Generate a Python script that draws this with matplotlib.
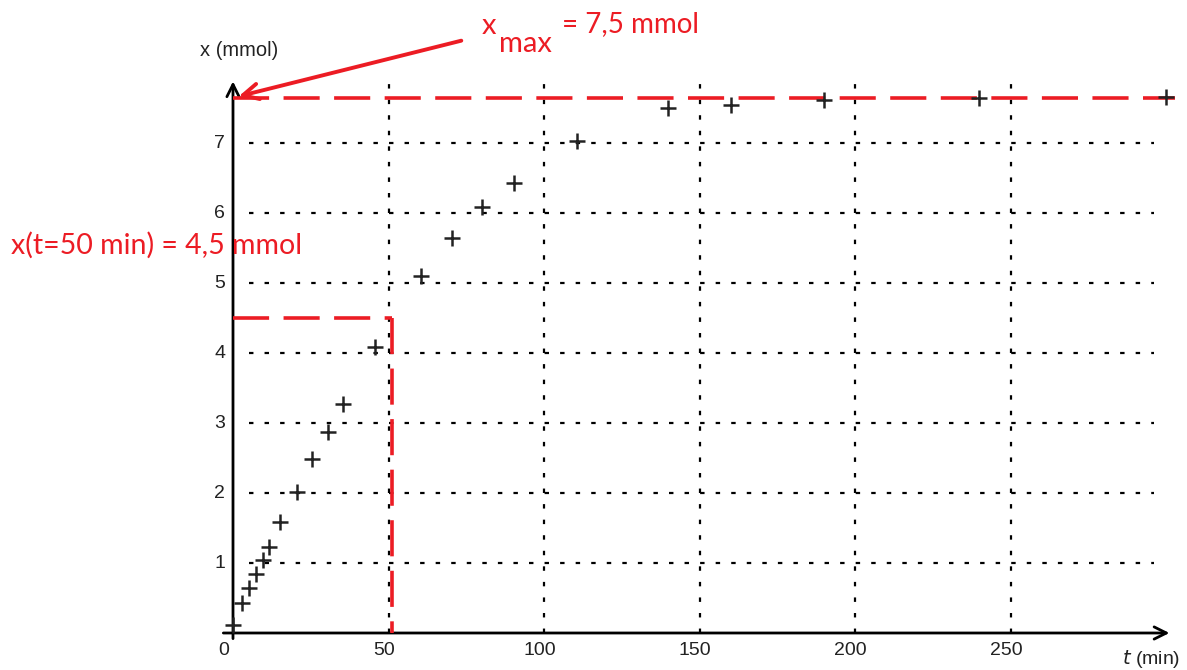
import matplotlib
matplotlib.use("Agg")
import matplotlib.pyplot as plt

# data
t_min = [0, 3, 5, 7.5, 9.5, 11.5, 15, 20.5, 25.5, 30.5, 35.5, 45.5, 60.5, 70.5, 80, 90.5, 110.5, 140, 160, 190, 240, 300]
x_mmol = [0.12, 0.43, 0.65, 0.84, 1.04, 1.23, 1.58, 2.02, 2.48, 2.87, 3.27, 4.08, 5.1, 5.64, 6.08, 6.43, 7.03, 7.5, 7.55, 7.62, 7.64, 7.66]
x_ticks = [50, 100, 150, 200, 250]
y_ticks = [1, 2, 3, 4, 5, 6, 7]
x_max = 7.65
t_half = 51
x_half = 4.5

RED = "#ec1c24"
W, H = 1187, 670
fig = plt.figure(figsize=(W / 100, H / 100), dpi=100)

# axes placement: t=0 at px 233, 3.11 px/min ; x=0 at px 633, 70 px/unit
xlim = (-4, 303)
ylim = (-0.15, 8.1)
px_per_t = 3.11
px_per_x = 70.0
left_px = 233 + xlim[0] * px_per_t
right_px = 233 + xlim[1] * px_per_t
bottom_px = 633 - ylim[0] * px_per_x
top_px = 633 - ylim[1] * px_per_x
ax = fig.add_axes([left_px / W, (H - bottom_px) / H, (right_px - left_px) / W, (bottom_px - top_px) / H])
ax.set_xlim(*xlim)
ax.set_ylim(*ylim)
for s in ax.spines.values():
    s.set_visible(False)
ax.set_xticks([])
ax.set_yticks([])

dot = (0, (2, 5))
# grid
ax.hlines(y_ticks, 5, 296, colors="black", linestyles=[dot], linewidth=1.6)
ax.vlines(x_ticks, 0, 7.95, colors="black", linestyles=[dot], linewidth=1.6)

# axes arrows
ax.annotate("", xy=(302, 0), xytext=(-4, 0),
            arrowprops=dict(arrowstyle="->", color="black", lw=2.0, mutation_scale=22))
ax.annotate("", xy=(0, 7.92), xytext=(0, -0.12),
            arrowprops=dict(arrowstyle="->", color="black", lw=2.0, mutation_scale=22))

# red guide lines
dash = (0, (10, 4))
ax.plot([0, 303], [x_max, x_max], color=RED, lw=2.6, linestyle=dash, zorder=3)
ax.plot([0, t_half], [x_half, x_half], color=RED, lw=2.6, linestyle=dash, zorder=3)
ax.plot([t_half, t_half], [x_half, 0], color=RED, lw=2.6, linestyle=dash, zorder=3)

# data points
ax.plot(t_min, x_mmol, linestyle="none", marker="+", color="#222222", markersize=11, mew=1.8, zorder=4)

# tick labels
tick_font = dict(family="Liberation Sans", fontsize=14, color="#222222")
for v in y_ticks:
    ax.text(-2.5, v, str(v), ha="right", va="center", **tick_font)
for v in x_ticks:
    ax.text(v - 1.5, -0.25, str(v), ha="center", va="center", **tick_font)
ax.text(-3, -0.25, "0", ha="center", va="center", **tick_font)

fig.text(1122 / W, (H - 659) / H, "$t$ (min)", ha="left", va="center", family="Liberation Sans", fontsize=14, color="#222222")
fig.text(200 / W, (H - 50) / H, "x (mmol)", ha="left", va="center", family="Liberation Sans", fontsize=14.5, color="#222222")

# annotations
fig.text(11 / W, (H - 245) / H, "x(t=50 min) = 4,5 mmol", ha="left", va="center", family="Lato", fontsize=20.5, color=RED)
fig.text(482 / W, (H - 26) / H, "x", ha="left", va="center", family="Lato", fontsize=21, color=RED)
fig.text(499 / W, (H - 44) / H, "max", ha="left", va="center", family="Lato", fontsize=21, color=RED)
fig.text(562 / W, (H - 24) / H, "= 7,5 mmol", ha="left", va="center", family="Lato", fontsize=20, color=RED)
ax.annotate("", xy=(236, H - 97), xycoords="figure pixels", xytext=(464, H - 40), textcoords="figure pixels",
            arrowprops=dict(arrowstyle="->", color=RED, lw=2.8, mutation_scale=28))

fig.savefig("out.png", dpi=100)
